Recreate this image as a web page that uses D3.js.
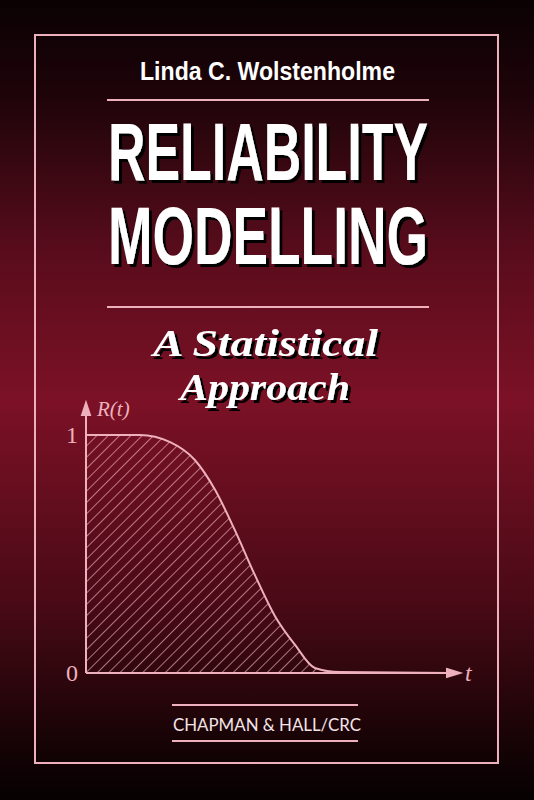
<!DOCTYPE html>
<html><head><meta charset="utf-8">
<script src="https://cdn.jsdelivr.net/npm/d3@7"></script>
<style>body{margin:0;background:#000}svg{display:block}</style>
</head><body>
<script>
// reliability curve R(t)
const tValues = [0, 1.44, 2.25, 2.91, 3.45, 3.98, 4.52, 5.05, 5.59, 6.12, 6.79, 9.73];
const rValues = [1, 1, 0.97, 0.895, 0.77, 0.60, 0.41, 0.24, 0.118, 0.021, 0.004, 0.0];
const yTicks = [0, 1];

const W = 534, H = 800, pink = "#eeb0bc";
const svg = d3.select("body").append("svg").attr("width", W).attr("height", H);
const defs = svg.append("defs");

const bg = defs.append("linearGradient").attr("id", "bg").attr("x1", 0).attr("x2", 0).attr("y1", 0).attr("y2", 1);
[[0, "#0a0103"], [0.12, "#1e0409"], [0.32, "#5a0c1c"], [0.5, "#7c1126"], [0.75, "#4a0a16"], [0.93, "#160305"], [1, "#060102"]]
  .forEach(([o, c]) => bg.append("stop").attr("offset", o).attr("stop-color", c));
svg.append("rect").attr("width", W).attr("height", H).attr("fill", "url(#bg)");

const sh = defs.append("filter").attr("id", "sh").attr("x", "-10%").attr("y", "-10%").attr("width", "120%").attr("height", "130%");
sh.append("feDropShadow").attr("dx", 3).attr("dy", 3).attr("stdDeviation", 0.5).attr("flood-color", "#000").attr("flood-opacity", 1);

const hatch = defs.append("pattern").attr("id", "hatch").attr("patternUnits", "userSpaceOnUse")
  .attr("width", 8).attr("height", 8).attr("patternTransform", "rotate(45)");
hatch.append("line").attr("x1", 0).attr("y1", 0).attr("x2", 0).attr("y2", 8)
  .attr("stroke", pink).attr("stroke-width", 1.3);

// frame
svg.append("rect").attr("x", 35).attr("y", 35).attr("width", 463).attr("height", 728)
  .attr("fill", "none").attr("stroke", pink).attr("stroke-width", 2);
[[100, 107, 429], [307, 107, 429], [705, 172, 358], [741, 172, 358]].forEach(([y, a, b]) =>
  svg.append("line").attr("x1", a).attr("x2", b).attr("y1", y).attr("y2", y)
    .attr("stroke", pink).attr("stroke-width", 2));

svg.append("text").attr("x", 140).attr("y", 80).attr("textLength", 255).attr("lengthAdjust", "spacingAndGlyphs")
  .attr("fill", "#fff").attr("font-family", "Liberation Sans Narrow, Liberation Sans").attr("font-weight", "bold")
  .attr("font-size", 25).text("Linda C. Wolstenholme");

[["RELIABILITY", 180], ["MODELLING", 264]].forEach(([s, y]) =>
  svg.append("text").attr("x", 108).attr("y", y).attr("textLength", 320).attr("lengthAdjust", "spacingAndGlyphs")
    .attr("fill", "#fff").attr("filter", "url(#sh)").attr("font-family", "Liberation Sans Narrow, Liberation Sans")
    .attr("font-weight", "bold").attr("font-size", 82).text(s));

[["A Statistical", 153, 225, 356], ["Approach", 180, 170, 400]].forEach(([s, x, w, y]) =>
  svg.append("text").attr("x", x).attr("y", y).attr("textLength", w).attr("lengthAdjust", "spacingAndGlyphs")
    .attr("fill", "#fff").attr("filter", "url(#sh)").attr("font-family", "Liberation Serif").attr("font-style", "italic")
    .attr("font-weight", "bold").attr("font-size", 38).text(s));

// chart
const x = d3.scaleLinear().domain([0, 10]).range([86, 460]);
const y = d3.scaleLinear().domain([0, 1]).range([673, 435]);
const pts = tValues.map((t, i) => [t, rValues[i]]);

svg.append("path").datum(pts).attr("fill", "url(#hatch)")
  .attr("d", d3.area().x(d => x(d[0])).y0(y(0)).y1(d => y(d[1])).curve(d3.curveMonotoneX));
svg.append("path").datum(pts).attr("fill", "none").attr("stroke", pink).attr("stroke-width", 2)
  .attr("d", d3.line().x(d => x(d[0])).y(d => y(d[1])).curve(d3.curveMonotoneX));

const ax = svg.append("g").attr("stroke", pink).attr("stroke-width", 2).attr("fill", pink);
ax.append("line").attr("x1", x(0)).attr("x2", x(0)).attr("y1", y(0)).attr("y2", 412);
ax.append("path").attr("d", `M${x(0) - 4},415L${x(0)},403L${x(0) + 4},415Z`);
ax.append("line").attr("x1", x(0)).attr("x2", 450).attr("y1", y(0)).attr("y2", y(0));
ax.append("path").attr("d", `M447,${y(0) - 4}L460,${y(0)}L447,${y(0) + 4}Z`);

svg.selectAll(".yt").data(yTicks).join("text").attr("x", 78).attr("y", d => y(d) + 8)
  .attr("text-anchor", "end").attr("fill", pink).attr("font-family", "Liberation Serif").attr("font-size", 24).text(d => d);
svg.append("text").attr("x", 97).attr("y", 416).attr("fill", pink).attr("font-family", "Liberation Serif")
  .attr("font-style", "italic").attr("font-size", 21).text("R(t)");
svg.append("text").attr("x", 465).attr("y", 681).attr("fill", pink).attr("font-family", "Liberation Serif")
  .attr("font-style", "italic").attr("font-size", 24).text("t");

svg.append("text").attr("x", 173).attr("y", 731).attr("textLength", 188).attr("lengthAdjust", "spacingAndGlyphs")
  .attr("fill", "#f4e4e8").attr("font-family", "Lato, Liberation Sans").attr("font-size", 17).text("CHAPMAN & HALL/CRC");
</script>
</body></html>
